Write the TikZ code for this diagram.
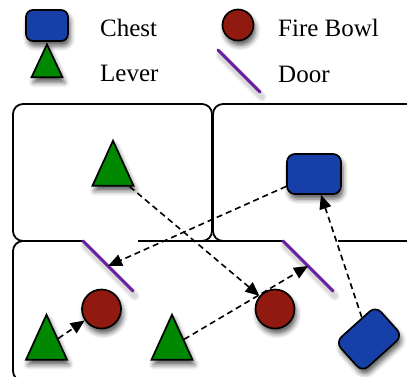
\documentclass[tikz,border=0pt]{standalone}
\usepackage{fontspec}
\setmainfont{Liberation Serif}
\usetikzlibrary{shapes.geometric,arrows.meta,shadows.blur}
\definecolor{chestblue}{RGB}{22,64,168}
\definecolor{bowlred}{RGB}{145,26,16}
\definecolor{levergreen}{RGB}{0,136,0}
\definecolor{doorpurple}{RGB}{106,30,160}
\begin{document}
\begin{tikzpicture}[x=1pt,y=-1pt,
  shad/.style={blur shadow={shadow xshift=2pt,shadow yshift=-5pt,shadow blur radius=5pt,shadow opacity=65}},
  chest/.style={draw=black,line width=1.7pt,fill=chestblue,rounded corners=8pt,
    minimum width=54pt,minimum height=40pt,inner sep=0pt,shad},
  smallchest/.style={chest,rounded corners=7pt,minimum width=42pt,minimum height=31pt},
  bowl/.style={draw=black,line width=1.7pt,fill=bowlred,circle,minimum size=39pt,inner sep=0pt,shad},
  smallbowl/.style={bowl,minimum size=31pt},
  lever/.style={draw=black,line width=1.7pt,fill=levergreen,isosceles triangle,
    shape border rotate=90,isosceles triangle stretches,minimum width=41pt,minimum height=45pt,
    inner sep=0pt,shad},
  smalllever/.style={lever,minimum width=31pt,minimum height=33pt},
  door/.style={draw=doorpurple,line width=3pt,line cap=round},
  doorshadow/.style={draw=black,opacity=0.08,line cap=round},
  wall/.style={draw=black,line width=1.8pt,rounded corners=10pt},
  conn/.style={draw=black,line width=1.6pt,dash pattern=on 6pt off 4pt,
    -{Triangle[length=14pt,width=12pt]}},
  lbl/.style={font=\fontsize{25}{30}\selectfont,inner sep=0pt,anchor=base west}
]
\useasboundingbox (0,0) rectangle (407,376);
\clip (0,0) rectangle (407,376);
% legend
\node[smallchest] (lchest) at (47,25.5) {};
\node[smallbowl] (lbowl) at (238,25) {};
\node[smalllever] (llever) at (47,67.5) {};
\draw[doorshadow,line width=9pt] (220,55) -- (262,97);
\draw[doorshadow,line width=5pt] (220,55) -- (262,97);
\draw[door] (218,50) coordinate (ldoora) -- (260,92) coordinate (ldoorb);
\node[lbl] (tchest) at (100,36.5) {Chest};
\node[lbl] (tlever) at (100,81) {Lever};
\node[lbl] (tbowl) at (278,36.5) {Fire Bowl};
\node[lbl] (tdoor) at (278,82) {Door};
% rooms
\draw[wall] (83,241) -- (13,241) -- (13,104) -- (212,104) -- (212,241) -- (138,241);
\draw[wall] (283,241) -- (213,241) -- (213,104) -- (430,104) -- (430,241) -- (338,241);
\draw[wall] (83,241) -- (13,241) -- (13,381) -- (430,381) -- (430,241) -- (338,241);
\draw[wall] (138,241) -- (283,241);
% doors
\foreach \a/\b in {{83,241}/{133,291},{283,241}/{333,291}}{
  \draw[doorshadow,line width=9pt] ([shift={(2,5)}]\a) -- ([shift={(2,5)}]\b);
  \draw[doorshadow,line width=5pt] ([shift={(2,5)}]\a) -- ([shift={(2,5)}]\b);
}
\draw[door] (83,241) coordinate (d1a) -- (133,291) coordinate (d1b);
\draw[door] (283,241) coordinate (d2a) -- (333,291) coordinate (d2b);
\coordinate (d1) at (108,266);
\coordinate (d2) at (308,266);
% objects
\node[lever] (lv0) at (113,172.5) {};
\node[chest] (ch1) at (314,174) {};
\node[bowl] (fb1) at (101.5,309) {};
\node[bowl] (fb2) at (275,309) {};
\node[lever] (lv1) at (46.5,346.5) {};
\node[lever] (lv2) at (172,346.5) {};
\node[chest,rotate=42] (ch2) at (369,339) {};
% connectors
\draw[conn] (lv0) -- (fb2);
\draw[conn] (ch1) -- (d1);
\draw[conn] (ch2) -- (ch1);
\draw[conn] (lv1) -- (fb1);
\draw[conn] (lv2) -- (d2);
\end{tikzpicture}
\end{document}
